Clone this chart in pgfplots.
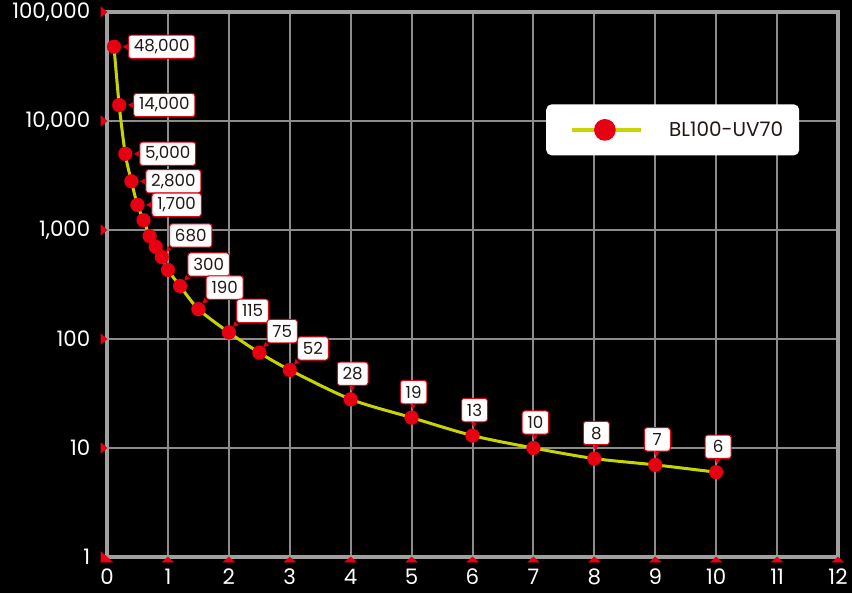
\documentclass[border=0pt]{standalone}
\usepackage{fontspec}
\setmainfont{Poppins}
\usepackage{pgfplots}
\pgfplotsset{compat=1.18}
\definecolor{mkred}{HTML}{E60012}
\definecolor{curve}{HTML}{C8D400}
\definecolor{gridgray}{HTML}{8C8C8C}
\definecolor{framegray}{HTML}{A0A0A0}
\definecolor{labtext}{HTML}{231815}
\tikzset{
  labelbox/.style={font=\fontsize{12.5}{13}\selectfont, text=labtext, fill=white,
    draw=mkred, line width=0.75pt, rounded corners=2pt, minimum height=17.5pt,
    minimum width=19.5pt, inner xsep=4pt, inner ysep=3pt},
}
\begin{document}
\begin{tikzpicture}
\path[use as bounding box, fill=black] (0pt,0pt) rectangle (639pt,444.75pt);
\begin{axis}[
  at={(80.25pt,27pt)}, anchor=south west,
  scale only axis, width=548.25pt, height=408.75pt,
  ymode=log, xmin=0, xmax=12, ymin=1, ymax=100000,
  xtick={0,1,...,12}, ytick={1,10,100,1000,10000,100000},
  yticklabels={1,10,100,{1,000},{10,000},{100,000}},
  grid=major,
  major grid style={gridgray, line width=1.5pt},
  axis line style={framegray, line width=3pt},
  major tick length=0pt, minor tick length=0pt,
  ticklabel style={white, font=\fontsize{16}{18}\selectfont},
  xticklabel style={yshift=-5.5pt},
  yticklabel style={xshift=-9pt},
  /pgf/number format/assume math mode=true,
  clip=false,
  legend style={at={(0.6005,0.831)}, anchor=north west, fill=white, draw=none,
    rounded corners=4pt, inner xsep=12pt, inner ysep=11pt,
    font=\fontsize{15}{16}\selectfont, text=labtext,
    /tikz/every odd column/.append style={column sep=20pt},
    nodes={inner sep=0pt}},
  legend image code/.code={
    \path[draw=none, fill=none] (0pt,-7pt) rectangle (59pt,7pt);
    \draw[curve, line width=2.5pt] (7pt,0pt) -- (59pt,0pt);
    \fill[mkred] (32pt,0pt) circle (7pt);},
]
% tick triangles
\addplot[forget plot, only marks, mark=triangle*, mark size=4.76pt, mkred,
  mark options={yshift=-2.5pt, yscale=0.53}]
  coordinates {(0,1)(1,1)(2,1)(3,1)(4,1)(5,1)(6,1)(7,1)(8,1)(9,1)(10,1)(11,1)(12,1)};
\addplot[forget plot, only marks, mark=triangle*, mark size=4.33pt, mkred,
  mark options={xshift=-3pt, rotate=-90, yscale=0.69}]
  coordinates {(0,1)(0,10)(0,100)(0,1000)(0,10000)(0,100000)};

% the curve
\addplot[curve, line width=2.25pt, smooth, mark=*, mark size=5.25pt,
  mark options={solid, fill=mkred, draw=mkred, line width=0.1pt}]
  coordinates {
    (0.115,48000)(0.2,14000)(0.3,5000)(0.4,2800)(0.5,1700)(0.6,1230)
    (0.7,880)(0.8,700)(0.9,565)(1.0,430)(1.2,306)(1.5,188)(2,115)
    (2.5,75)(3,52)(4,28)(5,19)(6,13)(7,10)(8,8)(9,7)(10,6)
  };
\addlegendentry{BL100-UV70}

% label pointers
\addplot[forget plot, only marks, mark=triangle*, mark size=2pt, mkred,
  mark options={xshift=9pt, rotate=90}]
  coordinates {(0.115,48000)(0.2,14000)(0.3,5000)(0.4,2800)(0.5,1700)};
\addplot[forget plot, only marks, mark=triangle*, mark size=2pt, mkred,
  mark options={xshift=5pt, yshift=6pt, rotate=135}]
  coordinates {(0.9,565)(1.2,306)(1.5,188)(2,115)(2.5,75)(3,52)};
\addplot[forget plot, only marks, mark=triangle*, mark size=2pt, mkred,
  mark options={xshift=1pt, yshift=8.5pt, rotate=180}]
  coordinates {(4,28)(5,19)(6,13)(7,10)(8,8)(9,7)(10,6)};

% labels
\addplot[forget plot, draw=none, nodes near coords, point meta=explicit symbolic,
  nodes near coords style={labelbox, anchor=west, xshift=10.5pt}]
  table[meta=lab] {
x y lab
0.115 48000 48,000
0.2 14000 14,000
0.3 5000 5,000
0.4 2800 2,800
0.5 1700 1,700
};
\addplot[forget plot, draw=none, nodes near coords, point meta=explicit symbolic,
  nodes near coords style={labelbox, anchor=south west, xshift=5.5pt, yshift=7pt}]
  table[meta=lab] {
x y lab
0.9 565 680
1.2 306 300
1.5 188 190
2 115 115
2.5 75 75
3 52 52
};
\addplot[forget plot, draw=none, nodes near coords, point meta=explicit symbolic,
  nodes near coords style={labelbox, anchor=south, xshift=1.5pt, yshift=10pt}]
  table[meta=lab] {
x y lab
4 28 28
5 19 19
6 13 13
7 10 10
8 8 8
9 7 7
10 6 6
};
\end{axis}
\end{tikzpicture}
\end{document}
